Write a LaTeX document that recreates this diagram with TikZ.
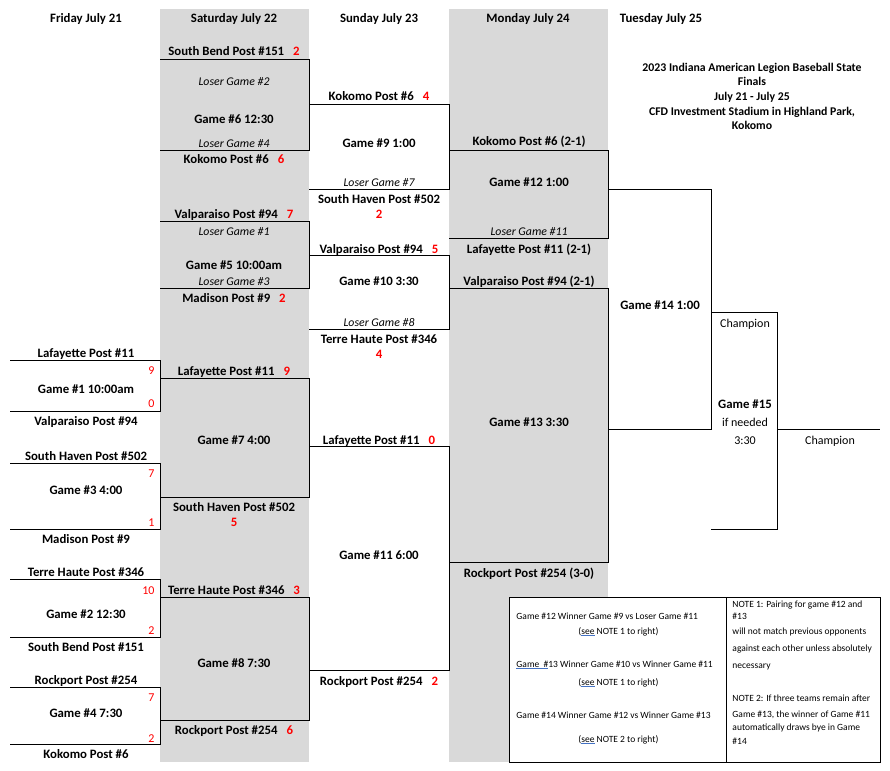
\documentclass[tikz,border=0pt]{standalone}
\usepackage{fontspec}
\setmainfont{Carlito}
\definecolor{cellgray}{HTML}{D9D9D9}
\definecolor{scorered}{HTML}{FF0000}
\definecolor{spellblue}{HTML}{4472C4}
\newcommand{\pts}[2]{#1\hspace{9pt}\textcolor{scorered}{#2}}
\newcommand{\spl}[1]{\textcolor{spellblue}{\underline{\textcolor{black}{#1}}}}
\begin{document}
\begin{tikzpicture}[x=1pt,y=-1pt,line width=0.9pt,
  every node/.style={inner sep=0pt,anchor=base},
  team/.style={font=\bfseries\fontsize{12.8}{14}\selectfont},
  plain/.style={font=\fontsize{12}{14}\selectfont},
  lsr/.style={font=\itshape\fontsize{11.8}{14}\selectfont},
  fsc/.style={font=\fontsize{12}{14}\selectfont,text=scorered,anchor=base east},
  ttl/.style={font=\bfseries\fontsize{11.8}{14.7}\selectfont,align=center},
  note/.style={font=\fontsize{9.5}{11}\selectfont,anchor=base west}]
\useasboundingbox (0,0) rectangle (890,770);
\fill[cellgray] (160,9) rectangle (309,762);
\fill[cellgray] (449,9) rectangle (608,762);

\draw (10,360) -| (160,411) -- (10,411);
\draw (10,463) -| (160,529) -- (10,529);
\draw (10,579) -| (160,637) -- (10,637);
\draw (10,687) -| (160,744) -- (10,744);

\draw (160,59) -| (309,150) -- (160,150);
\draw (160,221) -| (309,288) -- (160,288);
\draw (160,378) -| (309,497) -- (160,497);
\draw (160,597) -| (309,720) -- (160,720);

\draw (309,104) -| (449,189) -- (309,189);
\draw (309,255) -| (449,329) -- (309,329);
\draw (309,446) -| (449,670) -- (309,670);

\draw (449,150) -| (608,238) -- (449,238);
\draw (449,288) -| (608,562) -- (449,562);

\draw (608,189) -| (711,429) -- (608,429);
\draw (711,312) -| (777,529) -- (711,529);
\draw (777,429) -- (880,429);

\node[team] (hfri) at (86,23) {Friday July 21};
\node[team] (hsat) at (234,23) {Saturday July 22};
\node[team] (hsun) at (379,23) {Sunday July 23};
\node[team] (hmon) at (528,23) {Monday July 24};
\node[team] (htue) at (661,23) {Tuesday July 25};
\node[ttl] (title) at (752,130) {2023 Indiana American Legion Baseball State\\Finals\\July 21 - July 25\\CFD Investment Stadium in Highland Park,\\Kokomo};

\node[team] (f1a) at (86,357) {Lafayette Post \#11};
\node[team] (f1) at (86,393) {Game \#1 10:00am};
\node[team] (f1b) at (86,425) {Valparaiso Post \#94};
\node[fsc] (f1sa) at (155,374) {9};
\node[fsc] (f1sb) at (155,407) {0};
\node[team] (f3a) at (86,460) {South Haven Post \#502};
\node[team] (f3) at (86,494) {Game \#3 4:00};
\node[team] (f3b) at (86,543) {Madison Post \#9};
\node[fsc] (f3sa) at (155,477) {7};
\node[fsc] (f3sb) at (155,526) {1};
\node[team] (f2a) at (86,576) {Terre Haute Post \#346};
\node[team] (f2) at (86,618) {Game \#2 12:30};
\node[team] (f2b) at (86,651) {South Bend Post \#151};
\node[fsc] (f2sa) at (155,594) {10};
\node[fsc] (f2sb) at (155,634) {2};
\node[team] (f4a) at (86,684) {Rockport Post \#254};
\node[team] (f4) at (86,717) {Game \#4 7:30};
\node[team] (f4b) at (86,758) {Kokomo Post \#6};
\node[fsc] (f4sa) at (155,701) {7};
\node[fsc] (f4sb) at (155,742) {2};

\node[team] (s6a) at (234,56) {\pts{South Bend Post \#151}{2}};
\node[lsr] (s6l2) at (234,86) {Loser Game \#2};
\node[team] (s6) at (234,124) {Game \#6 12:30};
\node[lsr] (s6l4) at (234,147) {Loser Game \#4};
\node[team] (s6b) at (234,164) {\pts{Kokomo Post \#6}{6}};
\node[team] (s5a) at (234,218) {\pts{Valparaiso Post \#94}{7}};
\node[lsr] (s5l1) at (234,235) {Loser Game \#1};
\node[team] (s5) at (234,269) {Game \#5 10:00am};
\node[lsr] (s5l3) at (234,285) {Loser Game \#3};
\node[team] (s5b) at (234,302) {\pts{Madison Post \#9}{2}};
\node[team] (s7a) at (234,375) {\pts{Lafayette Post \#11}{9}};
\node[team] (s7) at (234,444) {Game \#7 4:00};
\node[team] (s7b) at (234,511) {South Haven Post \#502};
\node[team,text=scorered] (s7s) at (234,526) {5};
\node[team] (s8a) at (234,594) {\pts{Terre Haute Post \#346}{3}};
\node[team] (s8) at (234,667) {Game \#8 7:30};
\node[team] (s8b) at (234,734) {\pts{Rockport Post \#254}{6}};

\node[team] (u9a) at (379,101) {\pts{Kokomo Post \#6}{4}};
\node[team] (u9) at (379,147) {Game \#9 1:00};
\node[lsr] (u9l) at (379,186) {Loser Game \#7};
\node[team] (u9b) at (379,203) {South Haven Post \#502};
\node[team,text=scorered] (u9s) at (379,218) {2};
\node[team] (u10a) at (379,253) {\pts{Valparaiso Post \#94}{5}};
\node[team] (u10) at (379,285) {Game \#10 3:30};
\node[lsr] (u10l) at (379,326) {Loser Game \#8};
\node[team] (u10b) at (379,343) {Terre Haute Post \#346};
\node[team,text=scorered] (u10s) at (379,358) {4};
\node[team] (u11a) at (379,444) {\pts{Lafayette Post \#11}{0}};
\node[team] (u11) at (379,559) {Game \#11 6:00};
\node[team] (u11b) at (379,685) {\pts{Rockport Post \#254}{2}};

\node[team] (m12a) at (529,146) {Kokomo Post \#6 (2-1)};
\node[team] (m12) at (529,186) {Game \#12 1:00};
\node[lsr] (m12l) at (529,235) {Loser Game \#11};
\node[team] (m12b) at (529,253) {Lafayette Post \#11 (2-1)};
\node[team] (m13a) at (529,285) {Valparaiso Post \#94 (2-1)};
\node[team] (m13) at (529,426) {Game \#13 3:30};
\node[team] (m13b) at (529,577) {Rockport Post \#254 (3-0)};

\node[team] (t14) at (660,309) {Game \#14 1:00};
\node[plain] (t15c) at (745,327) {Champion};
\node[team] (t15) at (745,408) {Game \#15};
\node[plain] (t15n) at (745,426) {if needed};
\node[plain] (t15t) at (745,444) {3:30};
\node[plain] (champ) at (830,444) {Champion};

\draw[fill=white] (509,597) rectangle (880,762);
\draw (726,597) -- (726,762);
\node[note] (n12) at (516,619) {Game \#12 Winner Game \#9 vs Loser Game \#11};
\node[note] (n12s) at (578,634) {(\spl{see} NOTE 1 to right)};
\node[note] (n13) at (516,667) {\spl{Game\ \ \#}13 Winner Game \#10 vs Winner Game \#11};
\node[note] (n13s) at (578,685) {(\spl{see} NOTE 1 to right)};
\node[note] (n14) at (516,718) {Game \#14 Winner Game \#12 vs Winner Game \#13};
\node[note] (n14s) at (578,742) {(\spl{see} NOTE 2 to right)};
\node[note] (r1) at (732,607) {NOTE 1: Pairing for game \#12 and};
\node[note] (r2) at (732,619) {\#13};
\node[note] (r3) at (732,634) {will not match previous opponents};
\node[note] (r4) at (732,651) {against each other unless absolutely};
\node[note] (r5) at (732,668) {necessary};
\node[note] (r6) at (732,701) {NOTE 2: If three teams remain after};
\node[note] (r7) at (732,717) {Game \#13, the winner of Game \#11};
\node[note] (r8) at (732,730) {automatically draws bye in Game};
\node[note] (r9) at (732,744) {\#14};
\end{tikzpicture}
\end{document}
